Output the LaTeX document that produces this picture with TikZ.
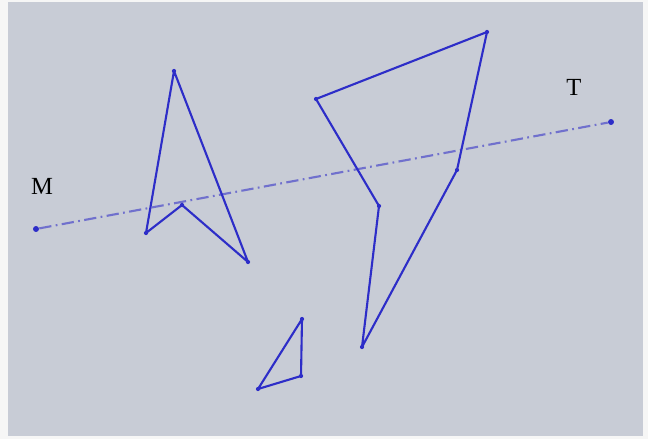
\documentclass[tikz,border=0pt]{standalone}
\usepackage{tikz}
\usepackage{fontspec}
\setmainfont{Liberation Serif}
\tikzset{
  panel/.style={fill=panelgray, draw=none},
  vtx/.style={circle, fill=edgeblue, inner sep=0pt, minimum size=2.4pt},
  endvtx/.style={vtx, minimum size=3.4pt},
  outline/.style={draw=edgeblue, line width=1.2pt, line join=round},
  axisline/.style={draw=axisblue, line width=1.2pt, dash pattern=on 7pt off 2.5pt on 1pt off 2.5pt},
  lbl/.style={font=\fontsize{14}{16}\selectfont, text=black, inner sep=0pt}
}
\definecolor{panelgray}{RGB}{200,204,214}
\definecolor{edgeblue}{RGB}{45,45,200}
\definecolor{axisblue}{RGB}{112,112,205}

\begin{document}
\begin{tikzpicture}[x=0.02cm, y=-0.02cm]
  % frame
  \fill[white!93!gray] (0,0) rectangle (648,439);
  \useasboundingbox (0,0) rectangle (648,439);
  \fill[panel] (8,2) rectangle (643,436);

  % axis M--T
  \node[endvtx] (m) at (36,229) {};
  \node[endvtx] (t) at (611,122) {};
  \draw[axisline] (m) -- (t);
  \node[lbl] (mlab) at (42,186) {M};
  \node[lbl] (tlab) at (574,87) {T};

  % arrow-like outline
  \node[vtx] (a1) at (174,71) {};
  \node[vtx] (a2) at (146,233) {};
  \node[vtx] (a3) at (182,205) {};
  \node[vtx] (a4) at (248,262) {};
  \draw[outline] (a1.center) -- (a2.center) -- (a3.center) -- (a4.center) -- cycle;

  % large outline
  \node[vtx] (b1) at (316,99) {};
  \node[vtx] (b2) at (487,32) {};
  \node[vtx] (b3) at (457,170) {};
  \node[vtx] (b4) at (362,347) {};
  \node[vtx] (b5) at (379,206) {};
  \draw[outline] (b1.center) -- (b2.center) -- (b3.center) -- (b4.center) -- (b5.center) -- cycle;

  % small triangle
  \node[vtx] (c1) at (302,319) {};
  \node[vtx] (c2) at (301,376) {};
  \node[vtx] (c3) at (258,389) {};
  \draw[outline] (c1.center) -- (c2.center) -- (c3.center) -- cycle;
\end{tikzpicture}
\end{document}
